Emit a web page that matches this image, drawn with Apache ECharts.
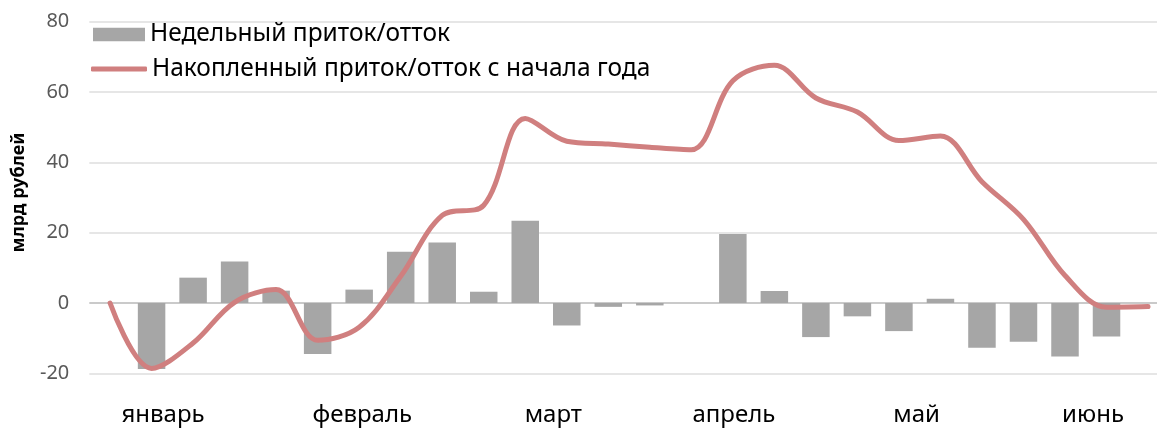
<!DOCTYPE html>
<html>
<head>
<meta charset="utf-8">
<script src="https://cdn.jsdelivr.net/npm/echarts@6/dist/echarts.min.js"></script>
<style>
html,body{margin:0;padding:0;background:#fff;}
#chart{width:1157px;height:428px;}
</style>
</head>
<body>
<div id="chart"></div>
<script>
// weekly categories (26 points, first one is the starting point)
const weeks = ['w0','w1','w2','w3','w4','w5','w6','w7','w8','w9','w10','w11','w12',
  'w13','w14','w15','w16','w17','w18','w19','w20','w21','w22','w23','w24','w25'];
// weekly inflow/outflow, bn RUB
const weekly = [null,-18.8,7.2,11.8,3.5,-14.5,3.8,14.6,17.2,3.2,23.4,-6.4,-1.1,
  -0.7,null,19.6,3.4,-9.7,-3.8,-8.0,1.2,-12.7,-11.0,-15.2,-9.5,null];
// cumulative since the start of the year, bn RUB
const cumulative = [0,-18.6,-11.4,0.2,3.8,-10.6,-6.9,7.6,24.9,27.8,52.5,46.0,45.2,
  44.3,43.6,63.2,67.6,58.3,54.3,46.2,47.5,34.5,23.8,7.8,-1.2,-1.0];
// month tick labels and where they sit (in week units)
const months = ['январь','февраль','март','апрель','май','июнь'];
const monthAt = [1.26, 6.06, 10.66, 15.01, 19.40, 23.69];
// y-axis ticks
const yTicks = [-20, 0, 20, 40, 60, 80];

const SUB = 20;
const monthCats = [];
for (let i = 0; i < weeks.length * SUB; i++) monthCats.push('');
months.forEach((m, j) => {
  const k = Math.round(SUB * (monthAt[j] + 0.5) - 0.5);
  monthCats[k] = m;
});

const FONT = '"Noto Sans", sans-serif';
const BAR_NAME = 'Недельный приток/отток';
const LINE_NAME = 'Накопленный приток/отток с начала года';
const LINE_COLOR = '#d07f7f';
const chart = echarts.init(document.getElementById('chart'), null, {renderer: 'canvas'});
chart.setOption({
  animation: false,
  backgroundColor: '#fff',
  textStyle: {fontFamily: FONT},
  grid: {left: 89.3, right: -11.8, top: 21.7, bottom: 54.7, containLabel: false, outerBoundsMode: 'none'},
  legend: [
    {
      orient: 'vertical',
      left: 88,
      top: 17,
      itemWidth: 52,
      itemHeight: 13.5,
      textStyle: {fontFamily: FONT, fontSize: 24.5, color: '#000'},
      data: [{name: BAR_NAME, icon: 'rect'}]
    },
    {
      orient: 'vertical',
      left: 86,
      top: 51.5,
      itemWidth: 56,
      itemHeight: 5,
      textStyle: {fontFamily: FONT, fontSize: 24.5, color: '#000'},
      data: [{name: LINE_NAME, icon: 'roundRect', itemStyle: {color: LINE_COLOR}}]
    }
  ],
  xAxis: [
    {
      type: 'category',
      data: weeks,
      position: 'top',
      boundaryGap: true,
      axisLine: {show: false},
      axisTick: {show: false},
      axisLabel: {show: false},
      splitLine: {show: false}
    },
    {
      type: 'category',
      data: monthCats,
      position: 'bottom',
      boundaryGap: true,
      axisLine: {show: false},
      axisTick: {show: false},
      axisLabel: {interval: 0, margin: 30, fontFamily: FONT, fontSize: 24, color: '#000'},
      splitLine: {show: false}
    }
  ],
  yAxis: {
    type: 'value',
    min: yTicks[0],
    max: yTicks[yTicks.length - 1],
    interval: 20,
    name: 'млрд рублей',
    nameLocation: 'middle',
    nameRotate: 90,
    nameGap: 61,
    nameTextStyle: {fontFamily: FONT, fontSize: 18, fontWeight: 'bold', color: '#000', padding: [0, 0, 0, 10]},
    axisLine: {show: false},
    axisTick: {show: false},
    axisLabel: {margin: 20, fontFamily: FONT, fontSize: 20, color: '#595959'},
    splitLine: {
      show: true,
      lineStyle: {width: 1.5, color: yTicks.map(v => v === 0 ? '#b8b8b8' : '#dedede')}
    }
  },
  series: [
    {
      name: BAR_NAME,
      type: 'bar',
      xAxisIndex: 0,
      data: weekly,
      barWidth: 27.5,
      itemStyle: {color: '#a6a6a6'},
      z: 2
    },
    {
      name: LINE_NAME,
      type: 'line',
      xAxisIndex: 0,
      data: cumulative,
      smooth: 0.35,
      symbol: 'none',
      lineStyle: {width: 5, color: LINE_COLOR, cap: 'round', join: 'round'},
      itemStyle: {color: LINE_COLOR},
      z: 3
    }
  ]
});
</script>
</body>
</html>
